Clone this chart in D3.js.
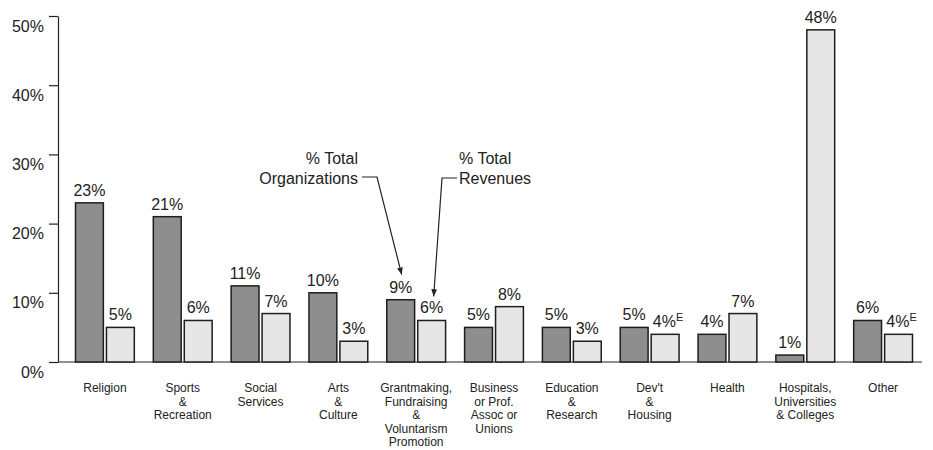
<!DOCTYPE html>
<html>
<head>
<meta charset="utf-8">
<script src="https://cdn.jsdelivr.net/npm/d3@7"></script>
<style>
  body { margin: 0; background: #fff; }
  svg text { font-family: "Liberation Sans", Arial, sans-serif; fill: #222; }
</style>
</head>
<body>
<script>
// data
var categories = ["Religion", "Sports\n&\nRecreation", "Social\nServices", "Arts\n&\nCulture",
    "Grantmaking,\nFundraising\n&\nVoluntarism\nPromotion", "Business\nor Prof.\nAssoc or\nUnions",
    "Education\n&\nResearch", "Dev't\n&\nHousing", "Health", "Hospitals,\nUniversities\n& Colleges", "Other"];
var orgShare = [23, 21, 11, 10, 9, 5, 5, 5, 4, 1, 6];
var revShare = [5, 6, 7, 3, 6, 8, 3, 4, 7, 48, 4];
var revFlag = ["", "", "", "", "", "", "", "E", "", "", "E"];
var yTicks = [0, 10, 20, 30, 40, 50];

function draw() {
    var width = 933, height = 450;
    var svg = d3.select("body").append("svg")
        .attr("width", width)
        .attr("height", height);

    var x = d3.scaleBand()
        .domain(d3.range(categories.length))
        .range([66, 922]);

    var inner = d3.scaleBand()
        .domain(["org", "rev"])
        .range([9.5, x.bandwidth() - 9.5])
        .paddingInner(0.1);

    var y = d3.scaleLinear()
        .domain([0, 50])
        .range([362, 16]);

    // y axis
    var yAxis = d3.axisLeft(y)
        .tickValues(yTicks)
        .tickSize(9)
        .tickSizeOuter(0)
        .tickPadding(5)
        .tickFormat(function (d) { return d + "%"; });

    var ya = svg.append("g")
        .attr("transform", "translate(58,0)")
        .call(yAxis);
    ya.select(".domain").attr("stroke", "#222").attr("stroke-width", 1.2);
    ya.selectAll(".tick line").attr("stroke", "#222").attr("stroke-width", 1.2);
    ya.selectAll(".tick text")
        .attr("dy", "0.95em")
        .style("font-size", "16px")
        .style("fill", "#222");

    // baseline
    svg.append("line")
        .attr("x1", 58).attr("x2", 922)
        .attr("y1", y(0)).attr("y2", y(0))
        .attr("stroke", "#222").attr("stroke-width", 1.2);

    var groups = svg.append("g").selectAll("g")
        .data(categories)
        .enter()
        .append("g")
        .attr("transform", function (d, i) { return "translate(" + x(i) + ",0)"; });

    // org bars
    groups.append("rect")
        .attr("x", inner("org"))
        .attr("width", inner.bandwidth())
        .attr("y", function (d, i) { return y(orgShare[i]); })
        .attr("height", function (d, i) { return y(0) - y(orgShare[i]); })
        .attr("fill", "#8e8e8f")
        .attr("stroke", "#1e1e1e")
        .attr("stroke-width", 1.5);

    // revenue bars
    groups.append("rect")
        .attr("x", inner("rev"))
        .attr("width", inner.bandwidth())
        .attr("y", function (d, i) { return y(revShare[i]); })
        .attr("height", function (d, i) { return y(0) - y(revShare[i]); })
        .attr("fill", "#e5e6e5")
        .attr("stroke", "#1e1e1e")
        .attr("stroke-width", 1.5);

    // value labels
    groups.append("text")
        .attr("x", inner("org") + inner.bandwidth() / 2)
        .attr("y", function (d, i) { return y(orgShare[i]) - 7; })
        .attr("text-anchor", "middle")
        .style("font-size", "16px")
        .text(function (d, i) { return orgShare[i] + "%"; });

    var rl = groups.append("text")
        .attr("x", inner("rev") + inner.bandwidth() / 2)
        .attr("y", function (d, i) { return y(revShare[i]) - 7; })
        .attr("text-anchor", "middle")
        .style("font-size", "16px");
    rl.append("tspan").text(function (d, i) { return revShare[i] + "%"; });
    rl.append("tspan")
        .attr("dy", -6)
        .style("font-size", "11px")
        .text(function (d, i) { return revFlag[i]; });
    // keep the number centred, the E hangs off to the right
    rl.attr("dx", function (d, i) { return revFlag[i] ? 3 : 0; });

    // category labels
    groups.append("text")
        .attr("text-anchor", "middle")
        .style("font-size", "12px")
        .each(function (d) {
            var t = d3.select(this);
            d.split("\n").forEach(function (line, k) {
                t.append("tspan")
                    .attr("x", x.bandwidth() / 2)
                    .attr("y", 392 + k * 13.5)
                    .text(line);
            });
        });

    // callouts on the Grantmaking group
    var gi = 4;
    var orgTipX = x(gi) + inner("org") + inner.bandwidth() / 2 + 1;
    var revTipX = x(gi) + inner("rev") + inner.bandwidth() / 2 + 2;

    svg.append("defs").append("marker")
        .attr("id", "head")
        .attr("viewBox", "0 0 10 10")
        .attr("refX", 10).attr("refY", 5)
        .attr("markerWidth", 6).attr("markerHeight", 6)
        .attr("orient", "auto")
        .append("path")
        .attr("d", "M0,1 L10,5 L0,9 Z")
        .attr("fill", "#222");

    var ann = svg.append("g").style("font-size", "16px");
    ann.append("text").attr("x", 358).attr("y", 164).attr("text-anchor", "end").text("% Total");
    ann.append("text").attr("x", 358).attr("y", 184).attr("text-anchor", "end").text("Organizations");
    ann.append("text").attr("x", 459).attr("y", 164).text("% Total");
    ann.append("text").attr("x", 459).attr("y", 184).text("Revenues");

    ann.append("path")
        .attr("d", "M362,177 L377,177 L" + orgTipX + "," + (y(orgShare[gi]) - 25))
        .attr("fill", "none").attr("stroke", "#222").attr("stroke-width", 1.2)
        .attr("marker-end", "url(#head)");
    ann.append("path")
        .attr("d", "M457,178 L442,178 L" + revTipX + "," + (y(revShare[gi]) - 24))
        .attr("fill", "none").attr("stroke", "#222").attr("stroke-width", 1.2)
        .attr("marker-end", "url(#head)");
}

window.onload = draw;
</script>
</body>
</html>
